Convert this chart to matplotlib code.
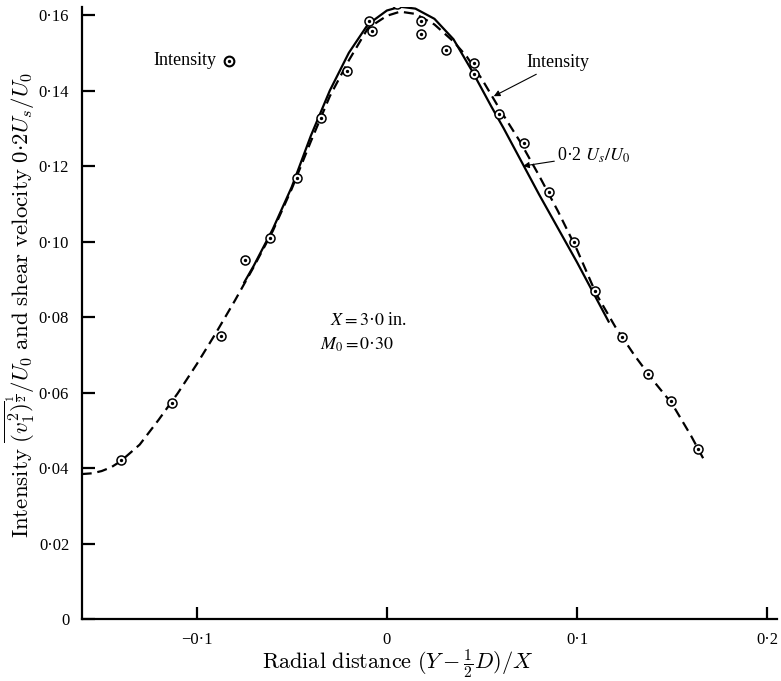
import matplotlib
matplotlib.use('Agg')
import matplotlib.pyplot as plt
from matplotlib.ticker import FuncFormatter

# --- data ---
# measured intensity points
pts_x = [-0.1398, -0.1132, -0.0874, -0.0744, -0.0614, -0.0474, -0.0347, -0.0211,
         -0.0092, -0.0079, 0.0051, 0.0179, 0.0179, 0.0311, 0.0459, 0.0459,
         0.0591, 0.0719, 0.0854, 0.0982, 0.1096, 0.1237, 0.1373, 0.1496, 0.1637]
pts_y = [0.0421, 0.0573, 0.0751, 0.0952, 0.1010, 0.1169, 0.1328, 0.1452,
         0.1583, 0.1558, 0.1628, 0.1583, 0.1549, 0.1507, 0.1472, 0.1443,
         0.1337, 0.1260, 0.1130, 0.0998, 0.0869, 0.0746, 0.0649, 0.0578, 0.0450]

# dashed curve: intensity
int_x = [-0.1605, -0.155, -0.150, -0.145, -0.140, -0.130, -0.120, -0.110, -0.100,
         -0.090, -0.080, -0.070, -0.060, -0.050, -0.040, -0.030, -0.020, -0.010,
         0.000, 0.007, 0.015, 0.025, 0.035, 0.042, 0.050, 0.060, 0.070, 0.080,
         0.090, 0.100, 0.110, 0.120, 0.130, 0.140, 0.150, 0.160, 0.1663]
int_y = [0.0384, 0.0386, 0.0392, 0.0402, 0.0418, 0.0462, 0.0528, 0.0598, 0.0675,
         0.0757, 0.0843, 0.0933, 0.1028, 0.1140, 0.1265, 0.1385, 0.1480, 0.1565,
         0.1598, 0.1609, 0.1603, 0.1575, 0.1530, 0.1490, 0.1430, 0.1345, 0.1265, 0.1175,
         0.1080, 0.0978, 0.0862, 0.0775, 0.0700, 0.0632, 0.0570, 0.0485, 0.0426]

# solid curve: 0.2 Us/U0
shear_x = [-0.0750, -0.070, -0.060, -0.050, -0.040, -0.030, -0.020, -0.010, 0.000,
           0.007, 0.015, 0.025, 0.035, 0.045, 0.055, 0.0614, 0.080, 0.100, 0.1166]
shear_y = [0.0892, 0.0936, 0.1033, 0.1145, 0.1280, 0.1400, 0.1500, 0.1575, 0.1612,
           0.1622, 0.1617, 0.1590, 0.1536, 0.1450, 0.1357, 0.1300, 0.1125, 0.0945, 0.0788]

x_ticks = [-0.1, 0.0, 0.1, 0.2]
y_ticks = [0.0, 0.02, 0.04, 0.06, 0.08, 0.10, 0.12, 0.14, 0.16]

LEGEND_MARK = (-0.0828, 0.1479)

SERIF = ['Liberation Serif', 'DejaVu Serif']


def dot_fmt(v, pos, digits):
    if abs(v) < 1e-9:
        return '0'
    s = f'{abs(v):.{digits}f}'.replace('.', '\u00b7')
    return ('\u2212' if v < 0 else '') + s


def draw_marks(ax, xs, ys, ms=6.5, mew=1.1):
    ax.plot(xs, ys, 'o', ms=ms, mfc='white', mec='black', mew=mew, zorder=4)
    ax.plot(xs, ys, 'o', ms=1.4, color='black', zorder=5)


fig = plt.figure(figsize=(7.81, 6.81), dpi=100)
ax = fig.add_axes([0.1046, 0.091, 0.8899, 0.898])

ax.plot(int_x, int_y, color='black', lw=1.6, dashes=(4.5, 2.6), zorder=3)
ax.plot(shear_x, shear_y, color='black', lw=1.6, zorder=3)
draw_marks(ax, pts_x, pts_y)

# legend-like label in upper left
draw_marks(ax, [LEGEND_MARK[0]], [LEGEND_MARK[1]], ms=7, mew=1.5)
ax.text(LEGEND_MARK[0] - 0.007, LEGEND_MARK[1], 'Intensity', family=SERIF,
        fontsize=13, ha='right', va='center')

# curve annotations
arrow = dict(arrowstyle='-|>', lw=0.8, color='black', mutation_scale=9,
             shrinkA=0, shrinkB=0)
ax.annotate('Intensity', xy=(0.0562, 0.1385), xytext=(0.0735, 0.1473),
            family=SERIF, fontsize=13, ha='left', va='center', arrowprops=arrow)
ax.annotate('0·2 $U_s/U_0$', xy=(0.0716, 0.1200), xytext=(0.0895, 0.1229),
            family=SERIF, fontsize=13, ha='left', va='center',
            math_fontfamily='stix', arrowprops=arrow)

ax.text(-0.0298, 0.0792, '$X = 3$·$0$ in.', family=SERIF, fontsize=13,
        ha='left', va='center', math_fontfamily='stix')
ax.text(-0.0351, 0.0726, '$M_0 = 0$·$30$', family=SERIF, fontsize=13,
        ha='left', va='center', math_fontfamily='stix')

ax.set_xlim(-0.1605, 0.205)
ax.set_ylim(0, 0.162)
ax.set_xticks(x_ticks)
ax.set_yticks(y_ticks)
ax.xaxis.set_major_formatter(FuncFormatter(lambda v, p: dot_fmt(v, p, 1)))
ax.yaxis.set_major_formatter(FuncFormatter(lambda v, p: dot_fmt(v, p, 2)))

for side in ['top', 'right']:
    ax.spines[side].set_visible(False)
for side in ['left', 'bottom']:
    ax.spines[side].set_linewidth(1.6)

ax.tick_params(direction='in', length=9, width=1.6, labelsize=12, pad=9)
for lab in ax.get_xticklabels() + ax.get_yticklabels():
    lab.set_family(SERIF)

ax.set_xlabel(r'$\mathrm{Radial\ distance}\ (Y-\frac{1}{2}D)/X$',
              fontsize=16, math_fontfamily='cm')
ax.set_ylabel(r'$\mathrm{Intensity}\ \overline{(v_1^2)}^{\frac{1}{2}}/U_0\ '
              r'\mathrm{and\ shear\ velocity}\ 0{\cdot}2U_s/U_0$',
              fontsize=16.5, math_fontfamily='cm')
ax.xaxis.set_label_coords(0.455, -0.046)
ax.yaxis.set_label_coords(-0.064, 0.513)

fig.savefig('out.png', dpi=100)
